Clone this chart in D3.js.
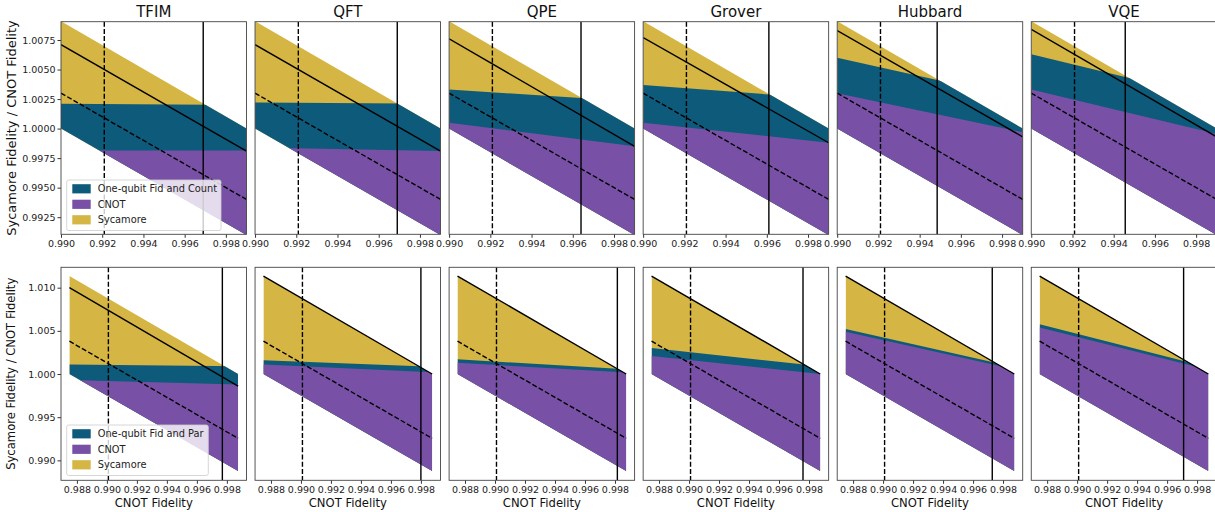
<!DOCTYPE html>
<html><head><meta charset="utf-8">
<script src="https://cdn.jsdelivr.net/npm/d3@7"></script>
<style>body{margin:0;background:#fff} text{font-family:"DejaVu Sans",sans-serif}</style>
</head><body><svg id="c" width="1215" height="512"></svg>
<script>
// ---------- data ----------
const algorithms = ["TFIM","QFT","QPE","Grover","Hubbard","VQE"];
const topLegendLabels = ["One-qubit Fid and Count","CNOT","Sycamore"];
const botLegendLabels = ["One-qubit Fid and Par","CNOT","Sycamore"];

// top row (x = CNOT fidelity at the two ends of the sweep)
const topCnotRange = [0.990, 0.999];
const topUpperEdge = [1.00909, 1.0000];
const topLowerEdge = [1.0000, 0.99099];
const topOneQubitTop = [[1.0021,1.0020],[1.0022,1.0021],[1.0033,1.0023],[1.0037,1.0025],[1.0060,1.0025],[1.0063,1.0025]];
const topCnotTop = [[0.99815,0.99815],[0.9984,0.9981],[1.0005,0.9985],[1.0005,0.9988],[1.0030,0.9997],[1.0033,0.99955]];
const topSolidLine = [[1.0071,0.9981],[1.0071,0.9981],[1.0076,0.9985],[1.0077,0.9988],[1.0083,0.9993],[1.0084,0.9993]];
const topDashedLine = [1.0030, 0.9940];
const topSolidV = [0.9969,0.9969,0.9964,0.9961,0.99485,0.99456];
const topDashedV = 0.9921;
const topXTicks = [0.990,0.992,0.994,0.996,0.998];
const topYTicks = [0.9925,0.9950,0.9975,1.0000,1.0025,1.0050,1.0075];

// bottom row
const botCnotRange = [0.9875, 0.99875];
const botUpperEdge = [1.01135, 1.0000];
const botLowerEdge = [1.0000, 0.98877];
const botOneQubitTop = [[1.0011,1.0009],[1.0016,1.00083],[1.0017,1.00054],[1.0030,1.0009],[1.0052,1.00082],[1.00575,1.00077]];
const botCnotTop = [[0.9993,0.9988],[1.0011,1.0002],[1.0013,1.00017],[1.0021,1.0000],[1.0049,1.00056],[1.0054,1.00048]];
const botSolidLine = [[1.0100,0.9986],[1.01135,1.0],[1.01135,1.0],[1.01135,1.0],[1.01135,1.0],[1.01135,1.0]];
const botDashedLine = [1.0038, 0.99255];
const botSolidV = [0.9977,0.9980,0.99816,0.9976,0.99728,0.9971];
const botDashedV = 0.9901;
const botXTicks = [0.988,0.990,0.992,0.994,0.996,0.998];
const botYTicks = [0.990,0.995,1.000,1.005,1.010];

// ---------- layout ----------
const colors = {one:"#0e5a7b", cnot:"#7851a7", syc:"#d5b543"};
const W = 185.5;
const lefts = d3.range(6).map(i => 61 + i*194.05);
const rows = [
  {top:21.7, bottom:234.3, xDom:[0.990,0.999], yDom:[0.99105,1.00905],
   range:topCnotRange, upper:topUpperEdge, lower:topLowerEdge, b2:topOneQubitTop, b1:topCnotTop,
   solid:topSolidLine, dashed:topDashedLine, sv:topSolidV, dv:topDashedV,
   xt:topXTicks, yt:topYTicks, yfmt:".4f", legend:topLegendLabels, title:true},
  {top:267.3, bottom:480.3, xDom:[0.98694,0.99931], yDom:[0.98769,1.01236],
   range:botCnotRange, upper:botUpperEdge, lower:botLowerEdge, b2:botOneQubitTop, b1:botCnotTop,
   solid:botSolidLine, dashed:botDashedLine, sv:botSolidV, dv:botDashedV,
   xt:botXTicks, yt:botYTicks, yfmt:".3f", legend:botLegendLabels, title:false}
];

const svg = d3.select("#c");
const defs = svg.append("defs");

rows.forEach((R, ri) => {
  algorithms.forEach((name, ci) => {
    const L = lefts[ci];
    const x = d3.scaleLinear().domain(R.xDom).range([L, L+W]);
    const y = d3.scaleLinear().domain(R.yDom).range([R.bottom, R.top]);
    const id = `p${ri}${ci}`;
    defs.append("clipPath").attr("id","ax"+id).append("rect")
      .attr("x",L).attr("y",R.top).attr("width",W).attr("height",R.bottom-R.top);
    const para = [[R.range[0],R.upper[0]],[R.range[1],R.upper[1]],[R.range[1],R.lower[1]],[R.range[0],R.lower[0]]];
    defs.append("clipPath").attr("id","pa"+id).append("path")
      .attr("d", d3.line().x(d=>x(d[0])).y(d=>y(d[1]))(para) + "Z");

    const g = svg.append("g").attr("clip-path",`url(#ax${id})`);
    const gr = g.append("g").attr("clip-path",`url(#pa${id})`);
    const ends = [0,1].map(k => ({x:R.range[k], b1:R.b1[ci][k], b2:R.b2[ci][k]}));
    const base = R.yDom[0]-0.01, topv = R.yDom[1]+0.01;
    const area = (hi) => d3.area().x(d=>x(d.x)).y0(y(base)).y1(d=>y(hi(d)))(ends);
    gr.append("path").attr("d", area(()=>topv)).attr("fill",colors.syc);
    gr.append("path").attr("d", area(d=>d.b2)).attr("fill",colors.one);
    gr.append("path").attr("d", area(d=>d.b1)).attr("fill",colors.cnot);

    const line = d3.line().x(d=>x(d[0])).y(d=>y(d[1]));
    g.append("path").attr("d", line([[R.range[0],R.solid[ci][0]],[R.range[1],R.solid[ci][1]]]))
      .attr("stroke","#000").attr("stroke-width",1.4).attr("fill","none");
    g.append("path").attr("d", line([[R.range[0],R.dashed[0]],[R.range[1],R.dashed[1]]]))
      .attr("stroke","#000").attr("stroke-width",1.4).attr("fill","none").attr("stroke-dasharray","5,2.2");
    g.append("line").attr("x1",x(R.dv)).attr("x2",x(R.dv)).attr("y1",R.top).attr("y2",R.bottom)
      .attr("stroke","#000").attr("stroke-width",1.4).attr("stroke-dasharray","5,2.2");
    g.append("line").attr("x1",x(R.sv[ci])).attr("x2",x(R.sv[ci])).attr("y1",R.top).attr("y2",R.bottom)
      .attr("stroke","#000").attr("stroke-width",1.4);

    // axes
    const xa = svg.append("g").attr("transform",`translate(0,${R.bottom})`)
      .call(d3.axisBottom(x).tickValues(R.xt).tickFormat(d3.format(".3f")).tickSize(3.5).tickPadding(2));
    xa.select(".domain").remove();
    xa.selectAll("text").attr("font-size","9.5px").attr("fill","#222").attr("font-family","DejaVu Sans");
    xa.selectAll("line").attr("stroke","#333");
    if (ci === 0) {
      const ya = svg.append("g").attr("transform",`translate(${L},0)`)
        .call(d3.axisLeft(y).tickValues(R.yt).tickFormat(d3.format(R.yfmt)).tickSize(3.5).tickPadding(2));
      ya.select(".domain").remove();
      ya.selectAll("text").attr("font-size","9.5px").attr("fill","#222").attr("font-family","DejaVu Sans");
      ya.selectAll("line").attr("stroke","#333");
    }
    svg.append("rect").attr("x",L).attr("y",R.top).attr("width",W).attr("height",R.bottom-R.top)
      .attr("fill","none").attr("stroke","#444").attr("stroke-width",0.9);

    const cx = L + W/2;
    if (R.title) svg.append("text").attr("x",cx).attr("y",16.8).attr("text-anchor","middle")
      .attr("font-size","15px").attr("fill","#111").text(name);
    else svg.append("text").attr("x",cx).attr("y",507).attr("text-anchor","middle")
      .attr("font-size","11.6px").attr("fill","#111").text("CNOT Fidelity");

    if (ci === 0) {
      const lg = svg.append("g");
      const bx = 66.7, by = ri===0 ? 180 : 425, bw = ri===0 ? 154.3 : 141.6, bh = 50.5;
      lg.append("rect").attr("x",bx).attr("y",by).attr("width",bw).attr("height",bh).attr("rx",2)
        .attr("fill","#fff").attr("fill-opacity",0.8).attr("stroke","#ccc").attr("stroke-width",0.8);
      const cols = [colors.one, colors.cnot, colors.syc];
      R.legend.forEach((t,k) => {
        const cyv = by + 8.8 + k*15.5;
        lg.append("rect").attr("x",72.3).attr("y",cyv-4.6).attr("width",18.4).attr("height",9.2).attr("fill",cols[k]);
        lg.append("text").attr("x",97.7).attr("y",cyv+3.5).attr("font-size","9.8px").attr("fill","#222").text(t);
      });
    }
  });
  const cy = (R.top + R.bottom)/2;
  svg.append("text").attr("transform",`translate(${ri===0?15.5:14.5},${cy}) rotate(-90)`)
    .attr("text-anchor","middle").attr("font-size", ri===0 ? "13px" : "11.6px").attr("fill","#111")
    .text("Sycamore Fidelity / CNOT Fidelity");
});
</script></body></html>
